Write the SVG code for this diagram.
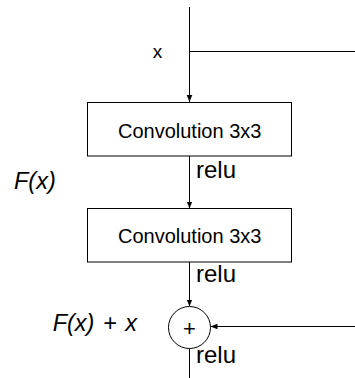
<svg xmlns="http://www.w3.org/2000/svg" width="355" height="378" viewBox="0 0 355 378">
<style>
text{font-family:"Liberation Sans",Arial,Helvetica,sans-serif;fill:#000}
.box{fill:#fff;stroke:#000;stroke-width:1}
.ln{fill:none;stroke:#000;stroke-width:1}
.lab{font-size:24px}
.it{font-size:23.5px;font-style:italic}
.conv{font-size:20px;text-anchor:middle}
</style>
<defs>
<marker id="ah" viewBox="0 0 10 10" refX="10" refY="5" markerWidth="7" markerHeight="7" markerUnits="userSpaceOnUse" orient="auto">
<path d="M0,1 L10,5 L0,9 Z" fill="#000"/>
</marker>
</defs>
<rect width="355" height="378" fill="#fff"/>
<g id="connectors">
<path class="ln" d="M189.5,7 V102" marker-end="url(#ah)"/>
<path class="ln" d="M189.5,51.5 H355"/>
<path class="ln" d="M189.5,156 V208.5" marker-end="url(#ah)"/>
<path class="ln" d="M189.5,262 V306.5" marker-end="url(#ah)"/>
<path class="ln" d="M355,326.5 H210.5" marker-end="url(#ah)"/>
<path class="ln" d="M189.5,348.5 V378"/>
</g>
<g id="label-x"><text x="157.5" y="58" style="font-size:19px" text-anchor="middle">x</text></g>
<g id="conv1">
<rect class="box" x="87.5" y="102.5" width="204" height="53.5"/>
<text class="conv" x="189.7" y="138">Convolution 3x3</text>
</g>
<g id="relu1"><text class="lab" x="196" y="177.5">relu</text></g>
<g id="fx"><text class="it" x="14" y="189">F(x)</text></g>
<g id="conv2">
<rect class="box" x="87.5" y="208.5" width="204" height="53.5"/>
<text class="conv" x="189.7" y="243">Convolution 3x3</text>
</g>
<g id="relu2"><text class="lab" x="196" y="282">relu</text></g>
<g id="sum">
<circle class="box" cx="189.5" cy="327.5" r="21"/>
<text x="189.5" y="335.5" style="font-size:22px" text-anchor="middle">+</text>
</g>
<g id="fxx"><text class="it" x="52.7" y="331" word-spacing="2">F(x) + x</text></g>
<g id="relu3"><text class="lab" x="196" y="363">relu</text></g>
</svg>
